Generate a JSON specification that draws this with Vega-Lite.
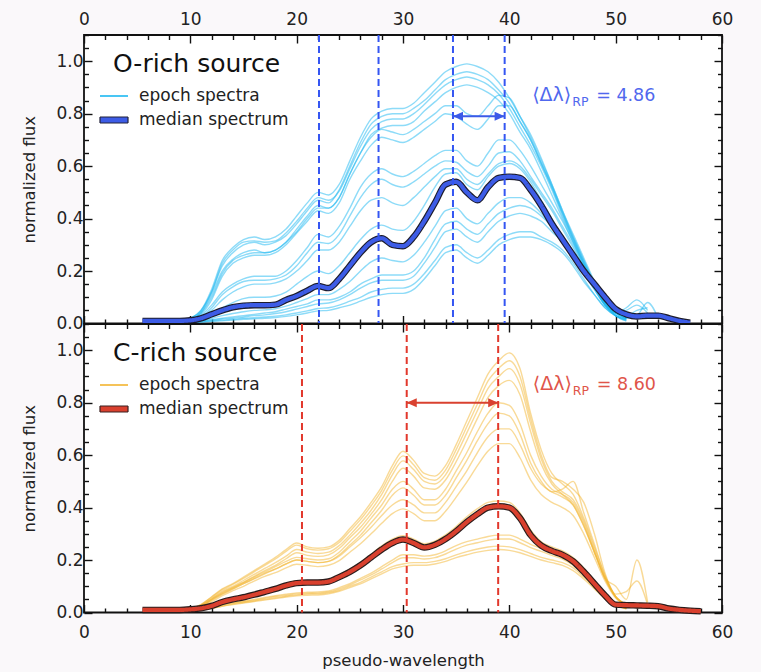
{
"$schema": "https://vega.github.io/schema/vega-lite/v6.json",
"background": "#faf8fa",
"padding": {"left": 21, "top": 5, "right": 27, "bottom": 3},
"spacing": 0,
"bounds": "flush",
"resolve": {"scale": {"color": "independent", "strokeDash": "independent", "x": "independent", "y": "independent"}},
"config": {
  "view": {"stroke": "#111111", "strokeWidth": 1.8, "fill": "white"},
  "font": "DejaVu Sans",
  "axis": {"domain": false, "grid": false, "tickColor": "#111111", "tickWidth": 1.4, "labelFont": "DejaVu Sans", "labelFontSize": 17, "labelColor": "#222222", "titleFont": "DejaVu Sans", "titleFontSize": 16.5, "titleFontWeight": "normal", "titleColor": "#222222", "labelOverlap": false, "labelBound": false, "labelFlush": false, "zindex": 2},
  "legend": {"orient": "top-left", "offset": 19, "padding": 0, "titleFontSize": 25, "titleFont": "DejaVu Sans", "titleFontWeight": "normal", "titleColor": "#111111", "titleAnchor": "start", "titlePadding": 6, "labelFontSize": 17, "labelFont": "DejaVu Sans", "labelColor": "#222222", "labelOffset": 14, "symbolSize": 400, "symbolOpacity": 1, "rowPadding": 1,
    "layout": {"direction": "vertical", "margin": 5, "top-left": {"direction": "vertical", "margin": 5}}}
},
"datasets": {
"o": [
{"x":5.5,"med":0.01},
{"x":6,"med":0.01},
{"x":7,"med":0.01},
{"x":8,"med":0.01},
{"x":9,"med":0.01,"a":0.01,"b":0.01,"c":0.01,"d":0.008,"e":0.008,"f":0.008,"g":0.005,"h":0.005,"i":0.004,"j":0.004,"k":0.003,"l":0.003,"m":0.002,"n":0.002,"o":0.003},
{"x":10,"med":0.012,"a":0.02,"b":0.02,"c":0.02,"d":0.015,"e":0.015,"f":0.015,"g":0.01,"h":0.01,"i":0.008,"j":0.007,"k":0.005,"l":0.004,"m":0.004,"n":0.003,"o":0.006},
{"x":11,"med":0.02,"a":0.05,"b":0.045,"c":0.05,"d":0.04,"e":0.04,"f":0.035,"g":0.03,"h":0.025,"i":0.02,"j":0.015,"k":0.01,"l":0.008,"m":0.007,"n":0.005,"o":0.012},
{"x":12,"med":0.035,"a":0.13,"b":0.12,"c":0.12,"d":0.11,"e":0.1,"f":0.09,"g":0.07,"h":0.06,"i":0.05,"j":0.035,"k":0.015,"l":0.012,"m":0.01,"n":0.008,"o":0.02},
{"x":13,"med":0.05,"a":0.24,"b":0.22,"c":0.23,"d":0.2,"e":0.19,"f":0.18,"g":0.12,"h":0.11,"i":0.09,"j":0.06,"k":0.02,"l":0.017,"m":0.013,"n":0.01,"o":0.03},
{"x":14,"med":0.062,"a":0.29,"b":0.27,"c":0.28,"d":0.245,"e":0.24,"f":0.23,"g":0.15,"h":0.14,"i":0.12,"j":0.08,"k":0.025,"l":0.02,"m":0.016,"n":0.013,"o":0.038},
{"x":15,"med":0.068,"a":0.32,"b":0.3,"c":0.31,"d":0.27,"e":0.26,"f":0.25,"g":0.17,"h":0.16,"i":0.14,"j":0.095,"k":0.03,"l":0.025,"m":0.02,"n":0.016,"o":0.045},
{"x":16,"med":0.07,"a":0.33,"b":0.31,"c":0.315,"d":0.28,"e":0.27,"f":0.26,"g":0.18,"h":0.165,"i":0.15,"j":0.1,"k":0.035,"l":0.03,"m":0.022,"n":0.018,"o":0.05},
{"x":17,"med":0.07,"a":0.32,"b":0.3,"c":0.31,"d":0.27,"e":0.27,"f":0.26,"g":0.18,"h":0.165,"i":0.15,"j":0.1,"k":0.04,"l":0.033,"m":0.025,"n":0.02,"o":0.052},
{"x":18,"med":0.072,"a":0.33,"b":0.31,"c":0.315,"d":0.28,"e":0.28,"f":0.27,"g":0.18,"h":0.17,"i":0.155,"j":0.105,"k":0.045,"l":0.038,"m":0.028,"n":0.023,"o":0.056},
{"x":19,"med":0.09,"a":0.36,"b":0.335,"c":0.345,"d":0.31,"e":0.31,"f":0.3,"g":0.2,"h":0.185,"i":0.17,"j":0.12,"k":0.055,"l":0.045,"m":0.033,"n":0.027,"o":0.066},
{"x":20,"med":0.105,"a":0.41,"b":0.38,"c":0.39,"d":0.35,"e":0.36,"f":0.345,"g":0.24,"h":0.22,"i":0.2,"j":0.15,"k":0.065,"l":0.055,"m":0.04,"n":0.033,"o":0.08},
{"x":21,"med":0.125,"a":0.46,"b":0.43,"c":0.44,"d":0.4,"e":0.41,"f":0.39,"g":0.29,"h":0.27,"i":0.24,"j":0.18,"k":0.075,"l":0.065,"m":0.048,"n":0.04,"o":0.095},
{"x":22,"med":0.143,"a":0.5,"b":0.47,"c":0.48,"d":0.44,"e":0.45,"f":0.43,"g":0.34,"h":0.31,"i":0.28,"j":0.2,"k":0.09,"l":0.075,"m":0.057,"n":0.048,"o":0.11},
{"x":23,"med":0.135,"a":0.49,"b":0.46,"c":0.47,"d":0.44,"e":0.44,"f":0.42,"g":0.33,"h":0.305,"i":0.28,"j":0.19,"k":0.09,"l":0.078,"m":0.06,"n":0.05,"o":0.11},
{"x":24,"med":0.17,"a":0.53,"b":0.51,"c":0.505,"d":0.48,"e":0.48,"f":0.46,"g":0.37,"h":0.34,"i":0.31,"j":0.22,"k":0.1,"l":0.09,"m":0.07,"n":0.06,"o":0.13},
{"x":25,"med":0.22,"a":0.62,"b":0.6,"c":0.59,"d":0.57,"e":0.57,"f":0.55,"g":0.44,"h":0.41,"i":0.37,"j":0.27,"k":0.12,"l":0.11,"m":0.085,"n":0.07,"o":0.16},
{"x":26,"med":0.27,"a":0.71,"b":0.69,"c":0.675,"d":0.65,"e":0.65,"f":0.62,"g":0.52,"h":0.48,"i":0.43,"j":0.32,"k":0.15,"l":0.135,"m":0.1,"n":0.085,"o":0.2},
{"x":27,"med":0.31,"a":0.78,"b":0.76,"c":0.74,"d":0.72,"e":0.71,"f":0.68,"g":0.57,"h":0.53,"i":0.47,"j":0.36,"k":0.17,"l":0.155,"m":0.12,"n":0.1,"o":0.235},
{"x":28,"med":0.325,"a":0.81,"b":0.79,"c":0.77,"d":0.745,"e":0.74,"f":0.71,"g":0.59,"h":0.55,"i":0.48,"j":0.375,"k":0.185,"l":0.165,"m":0.13,"n":0.11,"o":0.25},
{"x":29,"med":0.3,"a":0.82,"b":0.8,"c":0.78,"d":0.755,"e":0.73,"f":0.7,"g":0.57,"h":0.53,"i":0.46,"j":0.36,"k":0.185,"l":0.165,"m":0.135,"n":0.115,"o":0.24},
{"x":30,"med":0.295,"a":0.82,"b":0.8,"c":0.78,"d":0.755,"e":0.72,"f":0.69,"g":0.56,"h":0.52,"i":0.45,"j":0.355,"k":0.185,"l":0.165,"m":0.135,"n":0.115,"o":0.235},
{"x":31,"med":0.33,"a":0.84,"b":0.82,"c":0.8,"d":0.77,"e":0.74,"f":0.71,"g":0.58,"h":0.54,"i":0.48,"j":0.39,"k":0.2,"l":0.18,"m":0.15,"n":0.13,"o":0.26},
{"x":32,"med":0.39,"a":0.88,"b":0.85,"c":0.835,"d":0.81,"e":0.77,"f":0.74,"g":0.61,"h":0.57,"i":0.52,"j":0.45,"k":0.25,"l":0.23,"m":0.19,"n":0.17,"o":0.31},
{"x":33,"med":0.46,"a":0.92,"b":0.89,"c":0.875,"d":0.845,"e":0.8,"f":0.77,"g":0.64,"h":0.6,"i":0.56,"j":0.52,"k":0.32,"l":0.29,"m":0.24,"n":0.22,"o":0.37},
{"x":34,"med":0.53,"a":0.96,"b":0.93,"c":0.91,"d":0.88,"e":0.83,"f":0.8,"g":0.66,"h":0.62,"i":0.59,"j":0.57,"k":0.38,"l":0.35,"m":0.29,"n":0.27,"o":0.43},
{"x":35,"med":0.54,"a":0.98,"b":0.95,"c":0.93,"d":0.9,"e":0.83,"f":0.79,"g":0.66,"h":0.615,"i":0.59,"j":0.575,"k":0.39,"l":0.36,"m":0.3,"n":0.28,"o":0.44},
{"x":36,"med":0.5,"a":0.99,"b":0.96,"c":0.94,"d":0.91,"e":0.8,"f":0.76,"g":0.62,"h":0.58,"i":0.55,"j":0.53,"k":0.36,"l":0.33,"m":0.27,"n":0.25,"o":0.4},
{"x":37,"med":0.47,"a":0.98,"b":0.95,"c":0.93,"d":0.9,"e":0.79,"f":0.74,"g":0.6,"h":0.56,"i":0.53,"j":0.51,"k":0.34,"l":0.31,"m":0.25,"n":0.23,"o":0.38},
{"x":38,"med":0.52,"a":0.96,"b":0.93,"c":0.91,"d":0.88,"e":0.83,"f":0.78,"g":0.65,"h":0.6,"i":0.57,"j":0.56,"k":0.38,"l":0.35,"m":0.28,"n":0.26,"o":0.42},
{"x":39,"med":0.555,"a":0.92,"b":0.89,"c":0.875,"d":0.85,"e":0.87,"f":0.83,"g":0.7,"h":0.65,"i":0.61,"j":0.6,"k":0.42,"l":0.39,"m":0.32,"n":0.3,"o":0.46},
{"x":40,"med":0.56,"a":0.86,"b":0.84,"c":0.82,"d":0.8,"e":0.86,"f":0.83,"g":0.7,"h":0.655,"i":0.62,"j":0.61,"k":0.44,"l":0.41,"m":0.34,"n":0.32,"o":0.48},
{"x":41,"med":0.555,"a":0.79,"b":0.77,"c":0.75,"d":0.73,"e":0.79,"f":0.77,"g":0.66,"h":0.62,"i":0.6,"j":0.59,"k":0.45,"l":0.42,"m":0.35,"n":0.33,"o":0.48},
{"x":42,"med":0.51,"a":0.72,"b":0.7,"c":0.68,"d":0.665,"e":0.71,"f":0.7,"g":0.6,"h":0.56,"i":0.55,"j":0.54,"k":0.44,"l":0.41,"m":0.35,"n":0.33,"o":0.46},
{"x":43,"med":0.45,"a":0.63,"b":0.61,"c":0.6,"d":0.58,"e":0.62,"f":0.61,"g":0.53,"h":0.5,"i":0.49,"j":0.47,"k":0.41,"l":0.39,"m":0.33,"n":0.32,"o":0.42},
{"x":44,"med":0.38,"a":0.53,"b":0.52,"c":0.51,"d":0.49,"e":0.53,"f":0.52,"g":0.46,"h":0.44,"i":0.43,"j":0.4,"k":0.37,"l":0.35,"m":0.31,"n":0.3,"o":0.37},
{"x":45,"med":0.32,"a":0.43,"b":0.42,"c":0.41,"d":0.4,"e":0.43,"f":0.42,"g":0.39,"h":0.37,"i":0.36,"j":0.33,"k":0.33,"l":0.31,"m":0.28,"n":0.27,"o":0.32},
{"x":46,"med":0.26,"a":0.33,"b":0.32,"c":0.32,"d":0.31,"e":0.34,"f":0.33,"g":0.31,"h":0.3,"i":0.29,"j":0.27,"k":0.27,"l":0.26,"m":0.23,"n":0.22,"o":0.26},
{"x":47,"med":0.2,"a":0.24,"b":0.23,"c":0.23,"d":0.22,"e":0.25,"f":0.24,"g":0.23,"h":0.22,"i":0.21,"j":0.2,"k":0.2,"l":0.19,"m":0.17,"n":0.16,"o":0.2},
{"x":48,"med":0.15,"a":0.15,"b":0.15,"c":0.14,"d":0.14,"e":0.16,"f":0.155,"g":0.15,"h":0.14,"i":0.14,"j":0.14,"k":0.13,"l":0.13,"m":0.11,"n":0.11,"o":0.14},
{"x":49,"med":0.1,"a":0.07,"b":0.08,"c":0.07,"d":0.07,"e":0.08,"f":0.08,"g":0.08,"h":0.08,"i":0.08,"j":0.09,"k":0.07,"l":0.07,"m":0.06,"n":0.06,"o":0.08},
{"x":50,"med":0.055,"a":0.03,"b":0.04,"c":0.03,"d":0.03,"e":0.03,"f":0.04,"g":0.04,"h":0.04,"i":0.04,"j":0.05,"k":0.04,"l":0.04,"m":0.03,"n":0.03,"o":0.04},
{"x":51,"med":0.035,"a":0.01,"b":0.05,"c":0.02,"d":0.015,"e":0.01,"f":0.06,"g":0.02,"h":0.02,"i":0.02,"j":0.03,"k":0.02,"l":0.02,"m":0.015,"n":0.015,"o":0.02},
{"x":52,"med":0.027,"b":0.07,"c":0.03,"f":0.09,"j":0.05},
{"x":53,"med":0.03,"b":0.04,"c":0.08,"f":0.05,"j":0.06},
{"x":54,"med":0.03,"c":0.02},
{"x":55,"med":0.02},
{"x":56,"med":0.01},
{"x":57,"med":0.003}
],
"c": [
{"x":5.5,"med":0.01},
{"x":6,"med":0.01},
{"x":7,"med":0.01},
{"x":8,"med":0.01},
{"x":9,"med":0.01,"a":0.005,"b":0.005,"c":0.005,"d":0.004,"e":0.005,"f":0.005,"g":0.004,"h":0.004,"i":0.01,"j":0.004,"k":0.004,"l":0.003,"m":0.003},
{"x":10,"med":0.012,"a":0.015,"b":0.015,"c":0.013,"d":0.012,"e":0.012,"f":0.011,"g":0.01,"h":0.009,"i":0.012,"j":0.008,"k":0.008,"l":0.006,"m":0.006},
{"x":11,"med":0.016,"a":0.03,"b":0.03,"c":0.027,"d":0.025,"e":0.025,"f":0.024,"g":0.02,"h":0.018,"i":0.017,"j":0.012,"k":0.011,"l":0.01,"m":0.01},
{"x":12,"med":0.025,"a":0.06,"b":0.058,"c":0.054,"d":0.05,"e":0.05,"f":0.048,"g":0.045,"h":0.04,"i":0.027,"j":0.02,"k":0.019,"l":0.017,"m":0.016},
{"x":13,"med":0.04,"a":0.09,"b":0.087,"c":0.082,"d":0.078,"e":0.075,"f":0.071,"g":0.07,"h":0.064,"i":0.042,"j":0.03,"k":0.028,"l":0.025,"m":0.024},
{"x":14,"med":0.05,"a":0.11,"b":0.107,"c":0.1,"d":0.095,"e":0.095,"f":0.09,"g":0.09,"h":0.083,"i":0.053,"j":0.037,"k":0.035,"l":0.032,"m":0.03},
{"x":15,"med":0.058,"a":0.135,"b":0.13,"c":0.122,"d":0.115,"e":0.115,"f":0.11,"g":0.11,"h":0.1,"i":0.062,"j":0.043,"k":0.041,"l":0.038,"m":0.036},
{"x":16,"med":0.068,"a":0.16,"b":0.155,"c":0.145,"d":0.138,"e":0.135,"f":0.128,"g":0.13,"h":0.12,"i":0.072,"j":0.05,"k":0.047,"l":0.044,"m":0.042},
{"x":17,"med":0.079,"a":0.185,"b":0.18,"c":0.168,"d":0.16,"e":0.155,"f":0.147,"g":0.15,"h":0.138,"i":0.084,"j":0.057,"k":0.054,"l":0.05,"m":0.047},
{"x":18,"med":0.09,"a":0.21,"b":0.204,"c":0.19,"d":0.18,"e":0.175,"f":0.166,"g":0.165,"h":0.152,"i":0.096,"j":0.064,"k":0.061,"l":0.056,"m":0.053},
{"x":19,"med":0.103,"a":0.24,"b":0.233,"c":0.215,"d":0.205,"e":0.195,"f":0.185,"g":0.185,"h":0.17,"i":0.11,"j":0.07,"k":0.066,"l":0.062,"m":0.059},
{"x":20,"med":0.112,"a":0.265,"b":0.257,"c":0.24,"d":0.228,"e":0.21,"f":0.2,"g":0.2,"h":0.184,"i":0.12,"j":0.075,"k":0.071,"l":0.067,"m":0.064},
{"x":21,"med":0.114,"a":0.25,"b":0.243,"c":0.23,"d":0.218,"e":0.205,"f":0.195,"g":0.195,"h":0.18,"i":0.121,"j":0.077,"k":0.073,"l":0.07,"m":0.066},
{"x":22,"med":0.114,"a":0.245,"b":0.238,"c":0.225,"d":0.214,"e":0.2,"f":0.19,"g":0.19,"h":0.175,"i":0.121,"j":0.078,"k":0.074,"l":0.071,"m":0.067},
{"x":23,"med":0.118,"a":0.25,"b":0.243,"c":0.23,"d":0.22,"e":0.205,"f":0.195,"g":0.195,"h":0.18,"i":0.125,"j":0.082,"k":0.078,"l":0.075,"m":0.071},
{"x":24,"med":0.135,"a":0.275,"b":0.267,"c":0.255,"d":0.245,"e":0.23,"f":0.22,"g":0.215,"h":0.198,"i":0.143,"j":0.095,"k":0.09,"l":0.085,"m":0.081},
{"x":25,"med":0.155,"a":0.32,"b":0.31,"c":0.295,"d":0.285,"e":0.27,"f":0.257,"g":0.25,"h":0.23,"i":0.165,"j":0.11,"k":0.105,"l":0.1,"m":0.095},
{"x":26,"med":0.18,"a":0.365,"b":0.354,"c":0.34,"d":0.325,"e":0.31,"f":0.295,"g":0.285,"h":0.262,"i":0.19,"j":0.13,"k":0.124,"l":0.115,"m":0.109},
{"x":27,"med":0.21,"a":0.42,"b":0.407,"c":0.39,"d":0.375,"e":0.36,"f":0.342,"g":0.325,"h":0.3,"i":0.222,"j":0.15,"k":0.143,"l":0.135,"m":0.128},
{"x":28,"med":0.24,"a":0.48,"b":0.466,"c":0.45,"d":0.43,"e":0.41,"f":0.39,"g":0.37,"h":0.34,"i":0.254,"j":0.175,"k":0.166,"l":0.155,"m":0.147},
{"x":29,"med":0.265,"a":0.56,"b":0.543,"c":0.525,"d":0.5,"e":0.47,"f":0.447,"g":0.41,"h":0.377,"i":0.28,"j":0.2,"k":0.19,"l":0.175,"m":0.166},
{"x":30,"med":0.278,"a":0.615,"b":0.597,"c":0.578,"d":0.55,"e":0.5,"f":0.475,"g":0.43,"h":0.395,"i":0.293,"j":0.22,"k":0.209,"l":0.185,"m":0.176},
{"x":31,"med":0.265,"a":0.58,"b":0.563,"c":0.545,"d":0.52,"e":0.47,"f":0.447,"g":0.41,"h":0.377,"i":0.28,"j":0.22,"k":0.209,"l":0.19,"m":0.18},
{"x":32,"med":0.248,"a":0.53,"b":0.514,"c":0.5,"d":0.475,"e":0.43,"f":0.41,"g":0.38,"h":0.35,"i":0.262,"j":0.215,"k":0.204,"l":0.19,"m":0.18},
{"x":33,"med":0.258,"a":0.52,"b":0.504,"c":0.49,"d":0.47,"e":0.43,"f":0.41,"g":0.38,"h":0.35,"i":0.272,"j":0.22,"k":0.209,"l":0.195,"m":0.185},
{"x":34,"med":0.28,"a":0.56,"b":0.543,"c":0.525,"d":0.505,"e":0.47,"f":0.447,"g":0.42,"h":0.386,"i":0.296,"j":0.235,"k":0.223,"l":0.205,"m":0.195},
{"x":35,"med":0.31,"a":0.64,"b":0.621,"c":0.6,"d":0.575,"e":0.54,"f":0.513,"g":0.48,"h":0.44,"i":0.328,"j":0.255,"k":0.242,"l":0.22,"m":0.209},
{"x":36,"med":0.345,"a":0.73,"b":0.708,"c":0.685,"d":0.655,"e":0.61,"f":0.58,"g":0.54,"h":0.497,"i":0.365,"j":0.27,"k":0.257,"l":0.232,"m":0.22},
{"x":37,"med":0.375,"a":0.82,"b":0.795,"c":0.77,"d":0.74,"e":0.69,"f":0.655,"g":0.61,"h":0.56,"i":0.396,"j":0.28,"k":0.266,"l":0.242,"m":0.23},
{"x":38,"med":0.4,"a":0.91,"b":0.883,"c":0.855,"d":0.82,"e":0.76,"f":0.72,"g":0.67,"h":0.616,"i":0.42,"j":0.29,"k":0.275,"l":0.25,"m":0.237},
{"x":39,"med":0.405,"a":0.96,"b":0.931,"c":0.9,"d":0.865,"e":0.8,"f":0.76,"g":0.7,"h":0.644,"i":0.425,"j":0.295,"k":0.28,"l":0.253,"m":0.24},
{"x":40,"med":0.4,"a":0.99,"b":0.96,"c":0.93,"d":0.885,"e":0.79,"f":0.75,"g":0.7,"h":0.644,"i":0.42,"j":0.295,"k":0.28,"l":0.25,"m":0.237},
{"x":41,"med":0.36,"a":0.93,"b":0.9,"c":0.87,"d":0.83,"e":0.72,"f":0.68,"g":0.64,"h":0.59,"i":0.38,"j":0.28,"k":0.266,"l":0.24,"m":0.228},
{"x":42,"med":0.295,"a":0.76,"b":0.74,"c":0.72,"d":0.69,"e":0.6,"f":0.57,"g":0.55,"h":0.506,"i":0.315,"j":0.26,"k":0.247,"l":0.225,"m":0.214},
{"x":43,"med":0.255,"a":0.62,"b":0.6,"c":0.585,"d":0.565,"e":0.52,"f":0.5,"g":0.49,"h":0.45,"i":0.27,"j":0.245,"k":0.233,"l":0.21,"m":0.2},
{"x":44,"med":0.235,"a":0.53,"b":0.515,"c":0.5,"d":0.49,"e":0.47,"f":0.46,"g":0.46,"h":0.42,"i":0.25,"j":0.23,"k":0.218,"l":0.2,"m":0.19},
{"x":45,"med":0.22,"a":0.49,"b":0.5,"c":0.46,"d":0.45,"e":0.45,"f":0.47,"g":0.44,"h":0.4,"i":0.235,"j":0.215,"k":0.204,"l":0.19,"m":0.18},
{"x":46,"med":0.195,"a":0.45,"b":0.47,"c":0.43,"d":0.41,"e":0.42,"f":0.5,"g":0.41,"h":0.37,"i":0.21,"j":0.19,"k":0.18,"l":0.17,"m":0.16},
{"x":47,"med":0.155,"a":0.36,"b":0.42,"c":0.35,"d":0.33,"e":0.34,"f":0.38,"g":0.33,"h":0.3,"i":0.17,"j":0.15,"k":0.143,"l":0.135,"m":0.128},
{"x":48,"med":0.11,"a":0.25,"b":0.3,"c":0.24,"d":0.23,"e":0.23,"f":0.26,"g":0.23,"h":0.21,"i":0.12,"j":0.1,"k":0.095,"l":0.095,"m":0.09},
{"x":49,"med":0.065,"a":0.14,"b":0.15,"c":0.13,"d":0.13,"e":0.13,"f":0.14,"g":0.13,"h":0.12,"i":0.07,"j":0.06,"k":0.057,"l":0.055,"m":0.052},
{"x":50,"med":0.03,"a":0.06,"b":0.06,"c":0.1,"d":0.06,"e":0.06,"f":0.07,"g":0.06,"h":0.055,"i":0.035,"j":0.03,"k":0.03,"l":0.028,"m":0.027},
{"x":51,"med":0.028,"a":0.03,"b":0.03,"c":0.05,"d":0.03,"e":0.03,"f":0.08,"g":0.03,"h":0.03,"i":0.02,"j":0.015,"k":0.015,"l":0.015,"m":0.014},
{"x":52,"med":0.027,"a":0.02,"c":0.2,"f":0.12},
{"x":53,"med":0.026,"c":0.04,"f":0.03},
{"x":54,"med":0.024},
{"x":55,"med":0.015},
{"x":56,"med":0.01},
{"x":57,"med":0.007},
{"x":58,"med":0.005}
]
},
"vconcat": [
{
  "width": 638, "height": 288.5,
  "resolve": {"axis": {"x": "independent", "y": "independent"}},
  "layer": [
    {
      "data": {"name": "o"},
      "transform": [{"fold": ["a","b","c","d","e","f","g","h","i","j","k","l","m","n","o"], "as": ["s","y"]}, {"filter": "isValid(datum.y)"}],
      "mark": {"type": "line", "strokeWidth": 1.4, "opacity": 0.5, "interpolate": "monotone"},
      "encoding": {
        "x": {"field": "x", "type": "quantitative", "scale": {"domain": [0,60], "nice": false, "zero": false},
          "axis": {"orient": "top", "values": [0,2,4,6,8,10,12,14,16,18,20,22,24,26,28,30,32,34,36,38,40,42,44,46,48,50,52,54,56,58,60], "labelExpr": "datum.value % 10 === 0 ? datum.label : ''", "tickSize": {"condition": {"test": "datum.value % 10 === 0", "value": -8}, "value": -4.5}, "labelPadding": 15, "title": null}},
        "y": {"field": "y", "type": "quantitative", "scale": {"domain": [0,1.1], "nice": false},
          "axis": {"orient": "left", "values": [0,0.05,0.1,0.15,0.2,0.25,0.3,0.35,0.4,0.45,0.5,0.55,0.6,0.65,0.7,0.75,0.8,0.85,0.9,0.95,1,1.05,1.1], "labelExpr": "round(datum.value*100) % 20 === 0 ? format(datum.value, '.1f') : ''", "tickSize": {"condition": {"test": "round(datum.value*100) % 20 === 0", "value": -8}, "value": -4.5}, "labelPadding": 9, "title": "normalized flux", "titlePadding": 18}},
        "detail": {"field": "s"},
        "color": {"datum": "epoch spectra", "scale": {"domain": ["epoch spectra"], "range": ["#1cb8f2"]},
          "legend": {"title": "O-rich source", "symbolType": "M-1.4,0L1.4,0", "symbolStrokeWidth": 1.6, "symbolOpacity": 1,
            "encode": {"title": {"update": {"dx": {"value": 10}, "dy": {"value": -2}}, "dx": {"value": 10}, "dy": {"value": -2}}}}}
      }
    },
    {
      "data": {"name": "o"},
      "mark": {"type": "line", "stroke": "#1c1c2c", "strokeWidth": 6.5, "interpolate": "monotone"},
      "encoding": {
        "x": {"field": "x", "type": "quantitative", "scale": {"domain": [0,60], "nice": false, "zero": false},
          "axis": {"orient": "bottom", "values": [0,2,4,6,8,10,12,14,16,18,20,22,24,26,28,30,32,34,36,38,40,42,44,46,48,50,52,54,56,58,60], "labels": false, "tickSize": {"condition": {"test": "datum.value % 10 === 0", "value": -8}, "value": -4.5}, "title": null}},
        "y": {"field": "med", "type": "quantitative", "scale": {"domain": [0,1.1], "nice": false},
          "axis": {"orient": "right", "values": [0,0.05,0.1,0.15,0.2,0.25,0.3,0.35,0.4,0.45,0.5,0.55,0.6,0.65,0.7,0.75,0.8,0.85,0.9,0.95,1,1.05,1.1], "labels": false, "tickSize": {"condition": {"test": "round(datum.value*100) % 20 === 0", "value": -8}, "value": -4.5}, "title": null}}
      }
    },
    {
      "data": {"name": "o"},
      "mark": {"type": "line", "stroke": "#3d5ce6", "strokeWidth": 4.2, "interpolate": "monotone"},
      "encoding": {
        "x": {"field": "x", "type": "quantitative", "scale": {"domain": [0,60], "nice": false, "zero": false}, "axis": null},
        "y": {"field": "med", "type": "quantitative", "scale": {"domain": [0,1.1], "nice": false}, "axis": null},
        "strokeDash": {"datum": "median spectrum", "scale": {"domain": ["median spectrum"], "range": [[1, 0]]},
          "legend": {"title": null, "symbolType": "M-1.4,-0.3L1.4,-0.3L1.4,0.3L-1.4,0.3Z", "symbolStrokeWidth": 1.2, "symbolStrokeColor": "#22223a", "symbolFillColor": "#3d5ce6", "symbolOpacity": 1}}
      }
    },
    {
      "data": {"values": [{"x": 22.1}, {"x": 27.7}, {"x": 34.7}, {"x": 39.56}]},
      "mark": {"type": "rule", "stroke": "#3556f2", "strokeWidth": 2, "strokeDash": [7, 4]},
      "encoding": {"x": {"field": "x", "type": "quantitative", "scale": {"domain": [0,60], "nice": false, "zero": false}, "axis": null}}
    },
    {
      "data": {"values": [{"x1": 34.7, "x2": 39.56, "y": 0.79}]},
      "mark": {"type": "rule", "stroke": "#3b5ae8", "strokeWidth": 2},
      "encoding": {
        "x": {"field": "x1", "type": "quantitative", "scale": {"domain": [0,60], "nice": false, "zero": false}, "axis": null},
        "x2": {"field": "x2"},
        "y": {"field": "y", "type": "quantitative", "scale": {"domain": [0,1.1], "nice": false}, "axis": null}
      }
    },
    {
      "data": {"values": [{"x1": 34.7, "x2": 39.56, "y": 0.79}]},
      "mark": {"type": "point", "shape": "M0,0L2,-0.9L2,0.9Z", "filled": true, "fill": "#3b5ae8", "opacity": 1, "size": 100},
      "encoding": {
        "x": {"field": "x1", "type": "quantitative", "scale": {"domain": [0,60], "nice": false, "zero": false}, "axis": null},
        "y": {"field": "y", "type": "quantitative", "scale": {"domain": [0,1.1], "nice": false}, "axis": null}
      }
    },
    {
      "data": {"values": [{"x1": 34.7, "x2": 39.56, "y": 0.79}]},
      "mark": {"type": "point", "shape": "M0,0L-2,-0.9L-2,0.9Z", "filled": true, "fill": "#3b5ae8", "opacity": 1, "size": 100},
      "encoding": {
        "x": {"field": "x2", "type": "quantitative", "scale": {"domain": [0,60], "nice": false, "zero": false}, "axis": null},
        "y": {"field": "y", "type": "quantitative", "scale": {"domain": [0,1.1], "nice": false}, "axis": null}
      }
    },
    {
      "data": {"values": [{"x": 42.15, "y": 0.847}]},
      "mark": {"type": "text", "text": "⟨Δλ⟩", "align": "left", "baseline": "alphabetic", "font": "DejaVu Sans", "fontSize": 19, "fill": "#5068ee"},
      "encoding": {
        "x": {"field": "x", "type": "quantitative", "scale": {"domain": [0,60], "nice": false, "zero": false}, "axis": null},
        "y": {"field": "y", "type": "quantitative", "scale": {"domain": [0,1.1], "nice": false}, "axis": null}
      }
    },
    {
      "data": {"values": [{"x": 42.15, "y": 0.847}]},
      "mark": {"type": "text", "text": "RP", "align": "left", "baseline": "alphabetic", "dx": 40, "dy": 4.5, "font": "DejaVu Sans", "fontSize": 12.5, "fill": "#5068ee"},
      "encoding": {
        "x": {"field": "x", "type": "quantitative", "scale": {"domain": [0,60], "nice": false, "zero": false}, "axis": null},
        "y": {"field": "y", "type": "quantitative", "scale": {"domain": [0,1.1], "nice": false}, "axis": null}
      }
    },
    {
      "data": {"values": [{"x": 42.15, "y": 0.847}]},
      "mark": {"type": "text", "text": "= 4.86", "align": "left", "baseline": "alphabetic", "dx": 64, "font": "DejaVu Sans", "fontSize": 17.5, "fill": "#5068ee"},
      "encoding": {
        "x": {"field": "x", "type": "quantitative", "scale": {"domain": [0,60], "nice": false, "zero": false}, "axis": null},
        "y": {"field": "y", "type": "quantitative", "scale": {"domain": [0,1.1], "nice": false}, "axis": null}
      }
    }
  ]
},
{
  "width": 638, "height": 288.5,
  "resolve": {"axis": {"x": "independent", "y": "independent"}},
  "layer": [
    {
      "data": {"name": "c"},
      "transform": [{"fold": ["a","b","c","d","e","f","g","h","i","j","k","l","m"], "as": ["s","y"]}, {"filter": "isValid(datum.y)"}],
      "mark": {"type": "line", "strokeWidth": 1.4, "opacity": 0.5, "interpolate": "monotone"},
      "encoding": {
        "x": {"field": "x", "type": "quantitative", "scale": {"domain": [0,60], "nice": false, "zero": false},
          "axis": {"orient": "bottom", "values": [0,2,4,6,8,10,12,14,16,18,20,22,24,26,28,30,32,34,36,38,40,42,44,46,48,50,52,54,56,58,60], "labelExpr": "datum.value % 10 === 0 ? datum.label : ''", "tickSize": {"condition": {"test": "datum.value % 10 === 0", "value": -8}, "value": -4.5}, "labelPadding": 20, "title": "pseudo-wavelength", "titlePadding": 8}},
        "y": {"field": "y", "type": "quantitative", "scale": {"domain": [0,1.1], "nice": false},
          "axis": {"orient": "left", "values": [0,0.05,0.1,0.15,0.2,0.25,0.3,0.35,0.4,0.45,0.5,0.55,0.6,0.65,0.7,0.75,0.8,0.85,0.9,0.95,1,1.05,1.1], "labelExpr": "round(datum.value*100) % 20 === 0 ? format(datum.value, '.1f') : ''", "tickSize": {"condition": {"test": "round(datum.value*100) % 20 === 0", "value": -8}, "value": -4.5}, "labelPadding": 9, "title": "normalized flux", "titlePadding": 18}},
        "detail": {"field": "s"},
        "color": {"datum": "epoch spectra", "scale": {"domain": ["epoch spectra"], "range": ["#f3b530"]},
          "legend": {"title": "C-rich source", "symbolType": "M-1.4,0L1.4,0", "symbolStrokeWidth": 1.6, "symbolOpacity": 1,
            "encode": {"title": {"update": {"dx": {"value": 10}, "dy": {"value": -2}}, "dx": {"value": 10}, "dy": {"value": -2}}}}}
      }
    },
    {
      "data": {"name": "c"},
      "mark": {"type": "line", "stroke": "#2a1c1c", "strokeWidth": 6.5, "interpolate": "monotone"},
      "encoding": {
        "x": {"field": "x", "type": "quantitative", "scale": {"domain": [0,60], "nice": false, "zero": false},
          "axis": {"orient": "top", "values": [0,2,4,6,8,10,12,14,16,18,20,22,24,26,28,30,32,34,36,38,40,42,44,46,48,50,52,54,56,58,60], "labels": false, "tickSize": {"condition": {"test": "datum.value % 10 === 0", "value": -8}, "value": -4.5}, "title": null}},
        "y": {"field": "med", "type": "quantitative", "scale": {"domain": [0,1.1], "nice": false},
          "axis": {"orient": "right", "values": [0,0.05,0.1,0.15,0.2,0.25,0.3,0.35,0.4,0.45,0.5,0.55,0.6,0.65,0.7,0.75,0.8,0.85,0.9,0.95,1,1.05,1.1], "labels": false, "tickSize": {"condition": {"test": "round(datum.value*100) % 20 === 0", "value": -8}, "value": -4.5}, "title": null}}
      }
    },
    {
      "data": {"name": "c"},
      "mark": {"type": "line", "stroke": "#d9402e", "strokeWidth": 4.2, "interpolate": "monotone"},
      "encoding": {
        "x": {"field": "x", "type": "quantitative", "scale": {"domain": [0,60], "nice": false, "zero": false}, "axis": null},
        "y": {"field": "med", "type": "quantitative", "scale": {"domain": [0,1.1], "nice": false}, "axis": null},
        "strokeDash": {"datum": "median spectrum", "scale": {"domain": ["median spectrum"], "range": [[1, 0]]},
          "legend": {"title": null, "symbolType": "M-1.4,-0.3L1.4,-0.3L1.4,0.3L-1.4,0.3Z", "symbolStrokeWidth": 1.2, "symbolStrokeColor": "#3a2020", "symbolFillColor": "#d9402e", "symbolOpacity": 1}}
      }
    },
    {
      "data": {"values": [{"x": 20.5}, {"x": 30.35}, {"x": 38.95}]},
      "mark": {"type": "rule", "stroke": "#e2382c", "strokeWidth": 2, "strokeDash": [7, 4]},
      "encoding": {"x": {"field": "x", "type": "quantitative", "scale": {"domain": [0,60], "nice": false, "zero": false}, "axis": null}}
    },
    {
      "data": {"values": [{"x1": 30.35, "x2": 38.95, "y": 0.8}]},
      "mark": {"type": "rule", "stroke": "#d9412f", "strokeWidth": 2},
      "encoding": {
        "x": {"field": "x1", "type": "quantitative", "scale": {"domain": [0,60], "nice": false, "zero": false}, "axis": null},
        "x2": {"field": "x2"},
        "y": {"field": "y", "type": "quantitative", "scale": {"domain": [0,1.1], "nice": false}, "axis": null}
      }
    },
    {
      "data": {"values": [{"x1": 30.35, "x2": 38.95, "y": 0.8}]},
      "mark": {"type": "point", "shape": "M0,0L2,-0.9L2,0.9Z", "filled": true, "fill": "#d9412f", "opacity": 1, "size": 100},
      "encoding": {
        "x": {"field": "x1", "type": "quantitative", "scale": {"domain": [0,60], "nice": false, "zero": false}, "axis": null},
        "y": {"field": "y", "type": "quantitative", "scale": {"domain": [0,1.1], "nice": false}, "axis": null}
      }
    },
    {
      "data": {"values": [{"x1": 30.35, "x2": 38.95, "y": 0.8}]},
      "mark": {"type": "point", "shape": "M0,0L-2,-0.9L-2,0.9Z", "filled": true, "fill": "#d9412f", "opacity": 1, "size": 100},
      "encoding": {
        "x": {"field": "x2", "type": "quantitative", "scale": {"domain": [0,60], "nice": false, "zero": false}, "axis": null},
        "y": {"field": "y", "type": "quantitative", "scale": {"domain": [0,1.1], "nice": false}, "axis": null}
      }
    },
    {
      "data": {"values": [{"x": 42.2, "y": 0.847}]},
      "mark": {"type": "text", "text": "⟨Δλ⟩", "align": "left", "baseline": "alphabetic", "font": "DejaVu Sans", "fontSize": 19, "fill": "#e0554a"},
      "encoding": {
        "x": {"field": "x", "type": "quantitative", "scale": {"domain": [0,60], "nice": false, "zero": false}, "axis": null},
        "y": {"field": "y", "type": "quantitative", "scale": {"domain": [0,1.1], "nice": false}, "axis": null}
      }
    },
    {
      "data": {"values": [{"x": 42.2, "y": 0.847}]},
      "mark": {"type": "text", "text": "RP", "align": "left", "baseline": "alphabetic", "dx": 40, "dy": 4.5, "font": "DejaVu Sans", "fontSize": 12.5, "fill": "#e0554a"},
      "encoding": {
        "x": {"field": "x", "type": "quantitative", "scale": {"domain": [0,60], "nice": false, "zero": false}, "axis": null},
        "y": {"field": "y", "type": "quantitative", "scale": {"domain": [0,1.1], "nice": false}, "axis": null}
      }
    },
    {
      "data": {"values": [{"x": 42.2, "y": 0.847}]},
      "mark": {"type": "text", "text": "= 8.60", "align": "left", "baseline": "alphabetic", "dx": 64, "font": "DejaVu Sans", "fontSize": 17.5, "fill": "#e0554a"},
      "encoding": {
        "x": {"field": "x", "type": "quantitative", "scale": {"domain": [0,60], "nice": false, "zero": false}, "axis": null},
        "y": {"field": "y", "type": "quantitative", "scale": {"domain": [0,1.1], "nice": false}, "axis": null}
      }
    }
  ]
}
]
}
